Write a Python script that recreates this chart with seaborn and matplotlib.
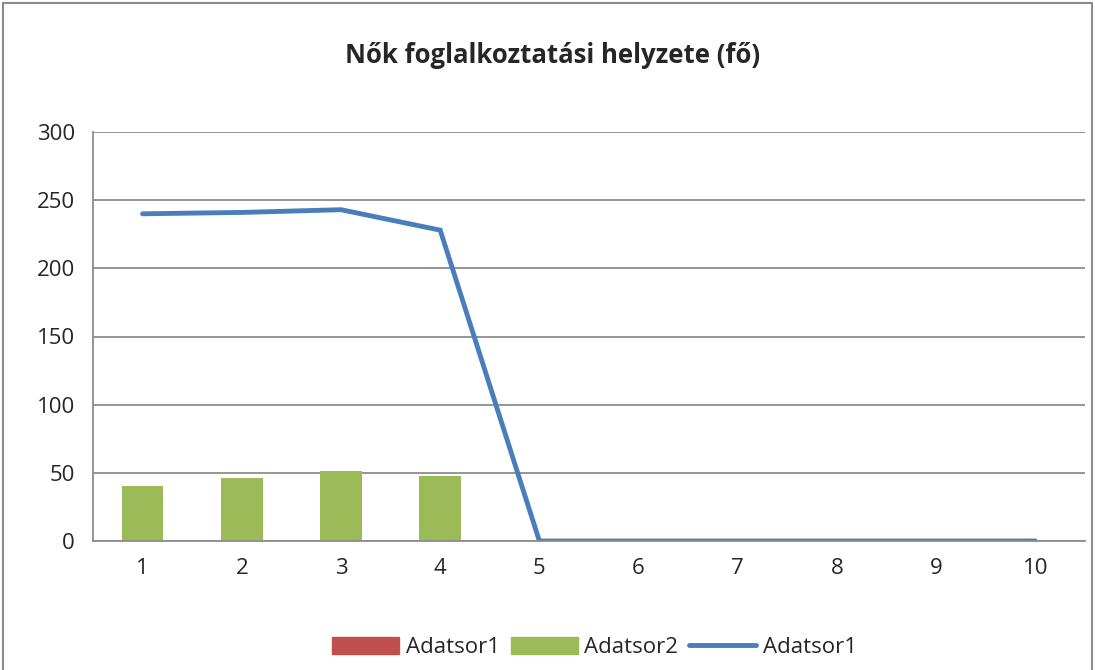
import matplotlib
matplotlib.use("Agg")
import matplotlib.pyplot as plt
import matplotlib.patches as mpatches
from matplotlib.lines import Line2D
import seaborn as sns
import pandas as pd
import numpy as np

# data
categories = ["1", "2", "3", "4", "5", "6", "7", "8", "9", "10"]
adatsor1_bars = [0, 0, 0, 0, 0, 0, 0, 0, 0, 0]
adatsor2_bars = [40, 46, 51, 48, 0, 0, 0, 0, 0, 0]
adatsor1_line = [240, 241, 243, 228, 0, 0, 0, 0, 0, 0]
title = "Nők foglalkoztatási helyzete (fő)"

red = "#C0504D"
green = "#9BBB59"
blue = "#4A7EBB"
grid_c = "#8C8C8C"

sns.set_style("white")
plt.rcParams['font.family'] = ['Open Sans', 'DejaVu Sans']

df = pd.DataFrame({"cat": categories, "bar1": adatsor1_bars,
                   "bar2": adatsor2_bars, "line": adatsor1_line})

fig = plt.figure(figsize=(10.95, 6.70), dpi=100)
ax = fig.add_axes([93 / 1095, 1 - 541 / 670, (1085 - 93) / 1095, (541 - 132) / 670])

sns.barplot(data=df, x="cat", y="bar1", color=red, width=0.42, linewidth=0, ax=ax)
sns.barplot(data=df, x="cat", y="bar2", color=green, width=0.42, linewidth=0,
            saturation=1, ax=ax)
sns.lineplot(x=np.arange(len(categories)), y=df["line"], color=blue, lw=3.5,
             solid_capstyle="round", solid_joinstyle="miter", ax=ax)

ax.set_xlim(-0.5, len(categories) - 0.5)
ax.set_ylim(0, 300)
ax.set_yticks(range(0, 301, 50))
ax.grid(axis="y", color=grid_c, lw=1.3)
ax.set_axisbelow(True)
ax.set_xlabel("")
ax.set_ylabel("")
for s in ["top", "right"]:
    ax.spines[s].set_visible(False)
for s in ["left", "bottom"]:
    ax.spines[s].set_color(grid_c)
    ax.spines[s].set_linewidth(1.3)

ax.set_xticks(np.arange(len(categories)))
ax.set_xticklabels(categories)
ax.set_xticks(np.arange(-0.5, len(categories)), minor=True)
ax.tick_params(axis="x", which="major", length=0, pad=12, labelsize=16)
ax.tick_params(axis="x", which="minor", length=7, width=1.3, color=grid_c, direction="out")
ax.tick_params(axis="y", length=7, width=1.3, color=grid_c, direction="out", pad=6, labelsize=16)

fig.suptitle(title, x=0.505, y=0.937, fontsize=18.5, fontweight="bold")

handles = [mpatches.Patch(color=red, label="Adatsor1"),
           mpatches.Patch(color=green, label="Adatsor2"),
           Line2D([0], [0], color=blue, lw=3.5, label="Adatsor1")]
fig.legend(handles=handles, loc="center", bbox_to_anchor=(0.543, 0.034), ncol=3,
           frameon=False, fontsize=16, handlelength=3.0, handleheight=0.8,
           columnspacing=0.5, handletextpad=0.3)

fig.add_artist(mpatches.Rectangle((0.003, -0.01), 0.994, 1.005, transform=fig.transFigure,
                                  fill=False, edgecolor="#8C8C8C", lw=1.5))

fig.savefig("out.png", dpi=100)
